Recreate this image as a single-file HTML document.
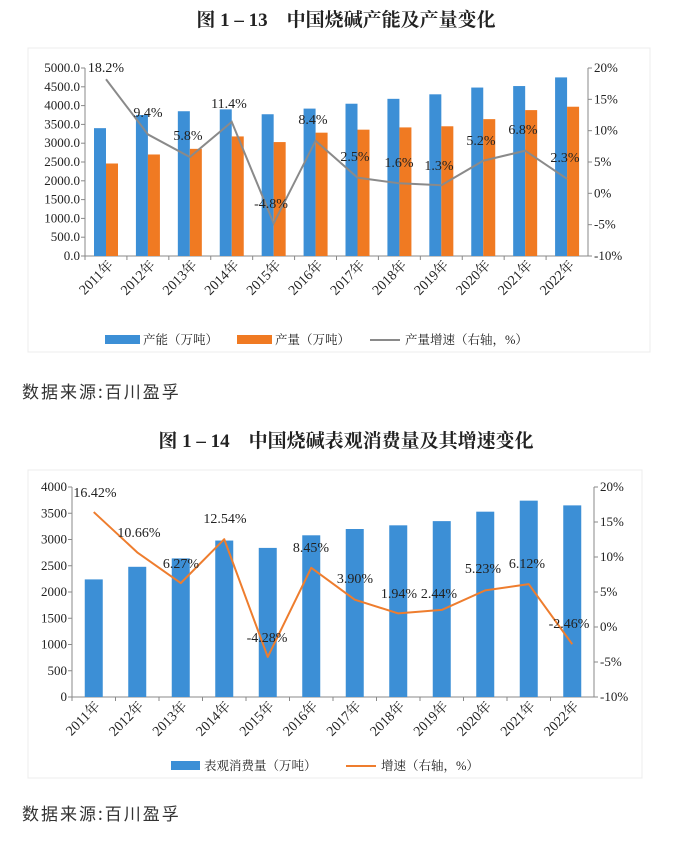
<!DOCTYPE html>
<html><head><meta charset="utf-8"><style>
body{margin:0;background:#fff;width:692px;height:844px;overflow:hidden;font-family:"Liberation Serif","Noto Serif CJK SC",serif}
svg{position:absolute;left:0;top:0}
</style></head><body>
<svg width="692" height="844" xmlns="http://www.w3.org/2000/svg" font-family="Liberation Serif, Noto Serif CJK SC, serif">
<rect x="0" y="0" width="692" height="844" fill="#fff"/>
<rect x="28" y="48" width="622" height="304" fill="#fff" stroke="#ececec"/>
<rect x="28" y="470" width="614" height="308" fill="#fff" stroke="#ececec"/>
<text x="346" y="26" text-anchor="middle" font-size="19" font-weight="bold" fill="#222">图 1 – 13　中国烧碱产能及产量变化</text>
<text x="346" y="447" text-anchor="middle" font-size="19" font-weight="bold" fill="#222">图 1 – 14　中国烧碱表观消费量及其增速变化</text>
<text x="22" y="398" font-size="17" fill="#333" font-family="Noto Sans CJK SC, sans-serif" letter-spacing="2">数据来源:百川盈孚</text>
<text x="22" y="820" font-size="17" fill="#333" font-family="Noto Sans CJK SC, sans-serif" letter-spacing="2">数据来源:百川盈孚</text>
<g id="c1" font-size="12.5" fill="#222"></g>
<g id="c2" font-size="12.5" fill="#222"></g>
</svg>
<script>
const NS="http://www.w3.org/2000/svg";
function el(p,t,a,txt){const e=document.createElementNS(NS,t);for(const k in a)e.setAttribute(k,a[k]);if(txt!==undefined)e.textContent=txt;p.appendChild(e);return e;}
const yrs=[2011,2012,2013,2014,2015,2016,2017,2018,2019,2020,2021,2022];
(function(){
const g=document.getElementById('c1');
const L=85,R=588,T=68,B=256,cw=(R-L)/12;
const cap=[3400,3750,3850,3900,3770,3920,4050,4180,4300,4480,4520,4750];
const pro=[2460,2700,2850,3180,3030,3280,3360,3420,3450,3640,3880,3970];
const gr=[18.2,9.4,5.8,11.4,-4.8,8.4,2.5,1.6,1.3,5.2,6.8,2.3];
const y=v=>B-(v/5000)*(B-T), yr=v=>B-((v+10)/30)*(B-T);
for(let i=0;i<=10;i++){const yy=B-i*(B-T)/10;el(g,'line',{x1:L-4,x2:L,y1:yy,y2:yy,stroke:'#888'});el(g,'text',{x:L-5,y:yy+4,'text-anchor':'end','font-size':'13'},(i*500).toFixed(1));}
for(let i=0;i<=6;i++){const yy=B-i*(B-T)/6;el(g,'line',{x1:R,x2:R+4,y1:yy,y2:yy,stroke:'#888'});el(g,'text',{x:R+6,y:yy+4,'font-size':'13'},(i*5-10)+'%');}
el(g,'line',{x1:L,x2:L,y1:T,y2:B,stroke:'#888'});el(g,'line',{x1:R,x2:R,y1:T,y2:B,stroke:'#888'});el(g,'line',{x1:L,x2:R,y1:B,y2:B,stroke:'#888'});
let pts=[];
for(let i=0;i<12;i++){const x0=L+i*cw;el(g,'line',{x1:x0,x2:x0,y1:B,y2:B+4,stroke:'#888'});
el(g,'rect',{x:x0+9,y:y(cap[i]),width:12,height:B-y(cap[i]),fill:'#3c8fd6'});
el(g,'rect',{x:x0+21,y:y(pro[i]),width:12,height:B-y(pro[i]),fill:'#f07a22'});
pts.push((x0+21)+','+yr(gr[i]));
el(g,'text',{transform:`translate(${x0+29},${B+10}) rotate(-45)`,'text-anchor':'end','font-size':'14'},yrs[i]+'年');}
el(g,'polyline',{points:pts.join(' '),fill:'none',stroke:'#8a8a8a','stroke-width':2});
const lx=[[106,72],[148,117],[188,140],[229,108],[271,208],[313,124],[355,161],[399,167],[439,170],[481,145],[523,134],[565,162]];
for(let i=0;i<12;i++)el(g,'text',{x:lx[i][0],y:lx[i][1],'text-anchor':'middle','font-size':'14'},gr[i].toFixed(1)+'%');
el(g,'rect',{x:105,y:335,width:35,height:9,fill:'#3c8fd6'});el(g,'text',{x:143,y:344,'font-size':'12.5'},'产能（万吨）');
el(g,'rect',{x:237,y:335,width:35,height:9,fill:'#f07a22'});el(g,'text',{x:275,y:344,'font-size':'12.5'},'产量（万吨）');
el(g,'line',{x1:370,x2:400,y1:340,y2:340,stroke:'#8a8a8a','stroke-width':2});el(g,'text',{x:405,y:344,'font-size':'12.5'},'产量增速（右轴，%）');
})();
(function(){
const g=document.getElementById('c2');
const L=72,R=594,T=487,B=697,cw=(R-L)/12;
const v=[2240,2480,2640,2980,2840,3080,3200,3270,3350,3530,3740,3650];
const gr=[16.42,10.66,6.27,12.54,-4.28,8.45,3.90,1.94,2.44,5.23,6.12,-2.46];
const y=q=>B-(q/4000)*(B-T), yr=q=>B-((q+10)/30)*(B-T);
for(let i=0;i<=8;i++){const yy=B-i*(B-T)/8;el(g,'line',{x1:L-4,x2:L,y1:yy,y2:yy,stroke:'#888'});el(g,'text',{x:L-5,y:yy+4,'text-anchor':'end','font-size':'13'},i*500);}
for(let i=0;i<=6;i++){const yy=B-i*(B-T)/6;el(g,'line',{x1:R,x2:R+4,y1:yy,y2:yy,stroke:'#888'});el(g,'text',{x:R+6,y:yy+4,'font-size':'13'},(i*5-10)+'%');}
el(g,'line',{x1:L,x2:L,y1:T,y2:B,stroke:'#888'});el(g,'line',{x1:R,x2:R,y1:T,y2:B,stroke:'#888'});el(g,'line',{x1:L,x2:R,y1:B,y2:B,stroke:'#888'});
let pts=[];
for(let i=0;i<12;i++){const x0=L+i*cw,cx=x0+cw/2;el(g,'line',{x1:x0,x2:x0,y1:B,y2:B+4,stroke:'#888'});
el(g,'rect',{x:cx-9,y:y(v[i]),width:18,height:B-y(v[i]),fill:'#3c8fd6'});
pts.push(cx+','+yr(gr[i]));
el(g,'text',{transform:`translate(${cx+7},${B+10}) rotate(-45)`,'text-anchor':'end','font-size':'14'},yrs[i]+'年');}
el(g,'polyline',{points:pts.join(' '),fill:'none',stroke:'#ee7d2e','stroke-width':2,'stroke-linejoin':'round'});
const lx=[[95,497],[139,537],[181,568],[225,523],[267,642],[311,552],[355,583],[399,598],[439,598],[483,573],[527,568],[569,628]];
for(let i=0;i<12;i++)el(g,'text',{x:lx[i][0],y:lx[i][1],'text-anchor':'middle','font-size':'14'},gr[i].toFixed(2)+'%');
el(g,'rect',{x:171,y:761,width:29,height:9,fill:'#3c8fd6'});el(g,'text',{x:204,y:770,'font-size':'12.5'},'表观消费量（万吨）');
el(g,'line',{x1:346,x2:376,y1:766,y2:766,stroke:'#ee7d2e','stroke-width':2});el(g,'text',{x:381,y:770,'font-size':'12.5'},'增速（右轴，%）');
})();
</script>
</body></html>
